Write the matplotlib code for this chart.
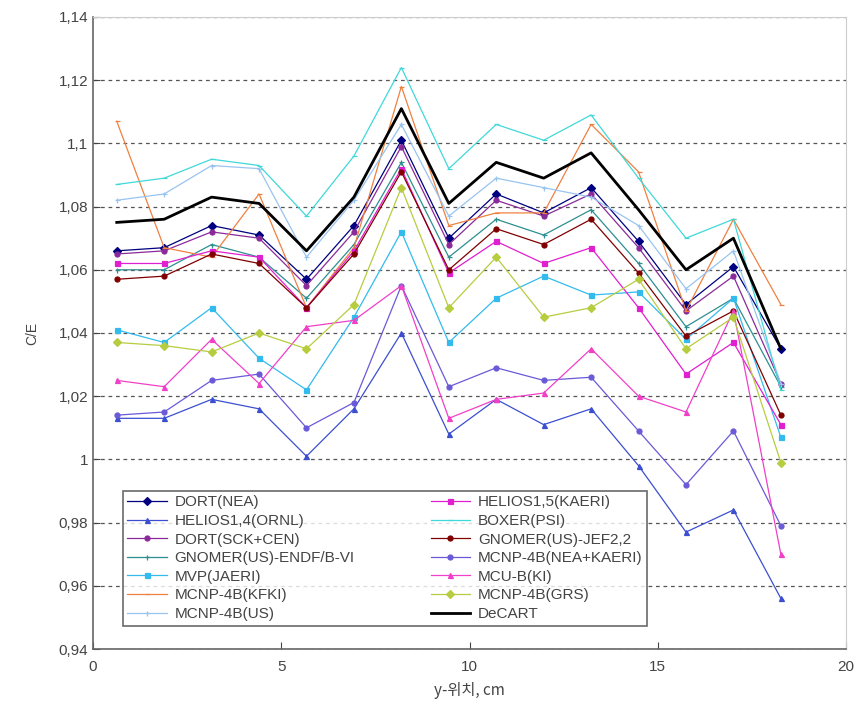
import matplotlib
matplotlib.use("Agg")
import matplotlib.pyplot as plt
from matplotlib.ticker import FuncFormatter

plt.rcParams['font.family'] = ['Liberation Sans', 'Noto Sans CJK KR', 'DejaVu Sans']

# pin positions across the assembly, cm
y_pos = [0.63, 1.89, 3.15, 4.41, 5.67, 6.93, 8.19, 9.45, 10.71, 11.97, 13.23, 14.49, 15.75, 17.01, 18.27]

dort_nea = [1.066, 1.067, 1.074, 1.071, 1.057, 1.074, 1.101, 1.070, 1.084, 1.078, 1.086, 1.069, 1.049, 1.061, 1.035]
helios14_ornl = [1.013, 1.013, 1.019, 1.016, 1.001, 1.016, 1.040, 1.008, 1.019, 1.011, 1.016, 0.998, 0.977, 0.984, 0.956]
dort_sck = [1.065, 1.066, 1.072, 1.070, 1.055, 1.072, 1.099, 1.068, 1.082, 1.077, 1.084, 1.067, 1.047, 1.058, 1.024]
gnomer_endf = [1.060, 1.060, 1.068, 1.064, 1.051, 1.068, 1.094, 1.064, 1.076, 1.071, 1.079, 1.062, 1.042, 1.051, 1.023]
mvp_jaeri = [1.041, 1.037, 1.048, 1.032, 1.022, 1.045, 1.072, 1.037, 1.051, 1.058, 1.052, 1.053, 1.038, 1.051, 1.007]
mcnp_kfki = [1.107, 1.067, 1.064, 1.084, 1.048, 1.067, 1.118, 1.074, 1.078, 1.078, 1.106, 1.091, 1.047, 1.076, 1.049]
mcnp_us = [1.082, 1.084, 1.093, 1.092, 1.064, 1.082, 1.106, 1.077, 1.089, 1.086, 1.083, 1.074, 1.054, 1.066, 1.024]
helios15_kaeri = [1.062, 1.062, 1.066, 1.064, 1.048, 1.066, 1.092, 1.059, 1.069, 1.062, 1.067, 1.048, 1.027, 1.037, 1.011]
boxer_psi = [1.087, 1.089, 1.095, 1.093, 1.077, 1.096, 1.124, 1.092, 1.106, 1.101, 1.109, 1.089, 1.070, 1.076, 1.022]
gnomer_jef = [1.057, 1.058, 1.065, 1.062, 1.048, 1.065, 1.091, 1.060, 1.073, 1.068, 1.076, 1.059, 1.039, 1.047, 1.014]
mcnp_nea_kaeri = [1.014, 1.015, 1.025, 1.027, 1.010, 1.018, 1.055, 1.023, 1.029, 1.025, 1.026, 1.009, 0.992, 1.009, 0.979]
mcu_ki = [1.025, 1.023, 1.038, 1.024, 1.042, 1.044, 1.055, 1.013, 1.019, 1.021, 1.035, 1.020, 1.015, 1.047, 0.970]
mcnp_grs = [1.037, 1.036, 1.034, 1.040, 1.035, 1.049, 1.086, 1.048, 1.064, 1.045, 1.048, 1.057, 1.035, 1.045, 0.999]
decart = [1.075, 1.076, 1.083, 1.081, 1.066, 1.083, 1.111, 1.081, 1.094, 1.089, 1.097, 1.079, 1.060, 1.070, 1.035]

# (label, values, color, marker)
series = [
    ("DORT(NEA)", dort_nea, "#000080", "D"),
    ("HELIOS1,4(ORNL)", helios14_ornl, "#3b4fd0", "^"),
    ("DORT(SCK+CEN)", dort_sck, "#8a2a9a", "o"),
    ("GNOMER(US)-ENDF/B-VI", gnomer_endf, "#2f8f8f", "+"),
    ("MVP(JAERI)", mvp_jaeri, "#33bbee", "s"),
    ("MCNP-4B(KFKI)", mcnp_kfki, "#f08040", "_"),
    ("MCNP-4B(US)", mcnp_us, "#99c4f0", "+"),
    ("HELIOS1,5(KAERI)", helios15_kaeri, "#e020d0", "s"),
    ("BOXER(PSI)", boxer_psi, "#40d8d8", "_"),
    ("GNOMER(US)-JEF2,2", gnomer_jef, "#800000", "o"),
    ("MCNP-4B(NEA+KAERI)", mcnp_nea_kaeri, "#6a5ad8", "o"),
    ("MCU-B(KI)", mcu_ki, "#f040c8", "^"),
    ("MCNP-4B(GRS)", mcnp_grs, "#b8cc40", "D"),
]

fig = plt.figure(figsize=(8.63, 7.11), dpi=100)
ax = fig.add_axes([0.1078, 0.0872, 0.8725, 0.8889])

for label, vals, color, marker in series:
    ax.plot(y_pos, vals, color=color, linewidth=0.9, marker=marker,
            markersize=3.6, markeredgewidth=0.9, label=label)
ax.plot(y_pos, decart, color="black", linewidth=2.0, label="DeCART")

ax.set_xlim(0, 20)
ax.set_ylim(0.94, 1.14)
ax.set_xticks([0, 5, 10, 15, 20])
ax.set_yticks([0.94 + 0.02 * i for i in range(11)])


def comma_fmt(v, pos):
    s = f"{v:.2f}".rstrip("0").rstrip(".")
    return s.replace(".", ",")


ax.yaxis.set_major_formatter(FuncFormatter(comma_fmt))
ax.tick_params(axis="both", labelsize=11, colors="#444444", direction="in", length=5)
ax.tick_params(axis="x", pad=8)

ax.grid(axis="y", linestyle=(0, (3, 3)), color="#555555", linewidth=0.9)
ax.set_axisbelow(True)
for side in ("top", "right"):
    ax.spines[side].set_color("#cccccc")
for side in ("left", "bottom"):
    ax.spines[side].set_color("#666666")
    ax.spines[side].set_linewidth(1.2)

ax.set_ylabel("C/E", fontsize=10, color="#444444", labelpad=14)
ax.set_xlabel("y-위치, cm", fontsize=11, color="#444444", labelpad=6,
              family=['Noto Sans CJK KR', 'DejaVu Sans'])

leg = ax.legend(ncol=2, loc="lower left", mode="expand",
                bbox_to_anchor=(0.029, 0.025, 0.717, 0.242),
                fontsize=11, frameon=True, fancybox=False,
                handlelength=2.6, handletextpad=0.5, labelspacing=0.3,
                borderpad=0.3, columnspacing=1.0)
leg.get_frame().set_edgecolor("#444444")
leg.get_frame().set_linewidth(1.2)
for t in leg.get_texts():
    t.set_color("#444444")

fig.savefig("out.png", dpi=100)
